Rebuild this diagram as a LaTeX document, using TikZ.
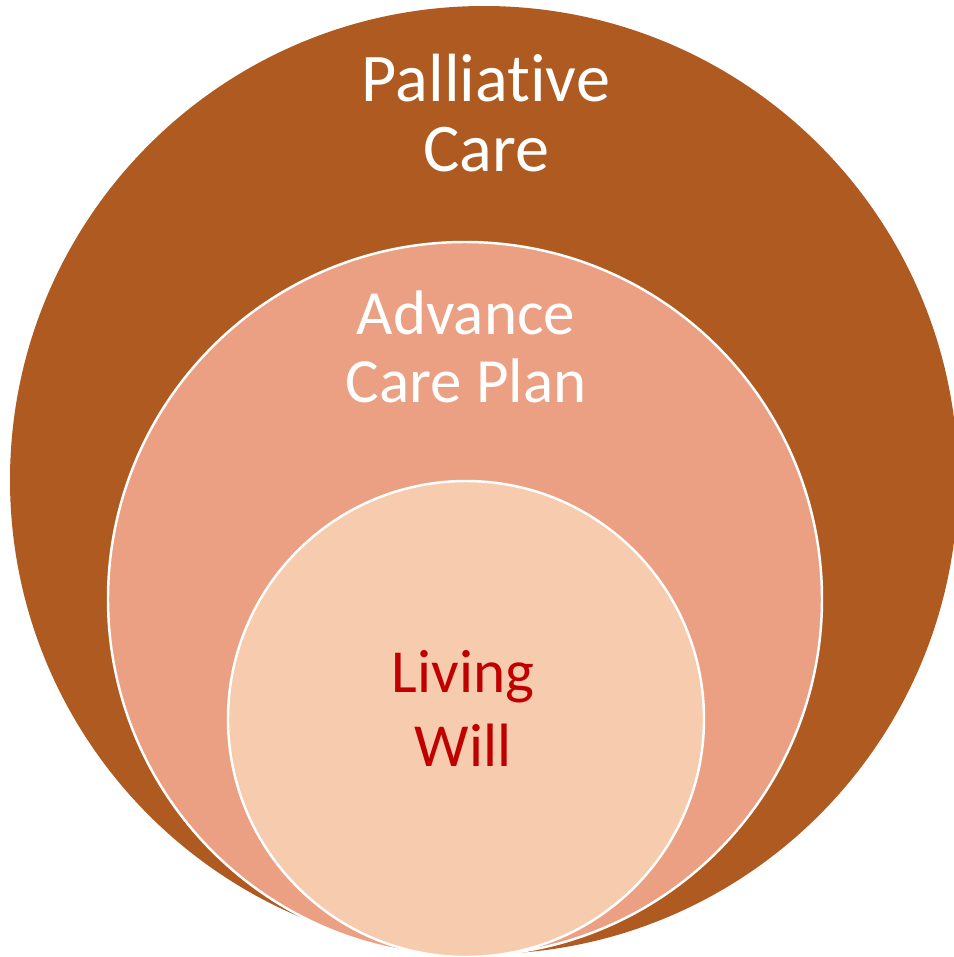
\documentclass[tikz,border=0pt]{standalone}
\usepackage{fontspec}
\setmainfont{Carlito}[Ligatures={NoCommon,NoContextual}]
\usepackage{tikz}
\definecolor{careBrown}{HTML}{AE5A21}
\definecolor{planSalmon}{HTML}{EBA083}
\definecolor{willPeach}{HTML}{F7CBAD}
\definecolor{willRed}{HTML}{C00000}
\tikzset{
  ring/.style={draw=white,line width=0.7pt},
  circletext/.style={align=center,inner sep=0pt,anchor=base}
}
\begin{document}
\begin{tikzpicture}[x=0.01cm,y=-0.01cm]
            \useasboundingbox (0,0) rectangle (953,957);
            % Circles
            \fill[careBrown](484,480)circle(474);
            \filldraw[ring,fill=planSalmon](465,599)circle(357);
            \filldraw[ring,fill=willPeach](466,719)circle(238);
            % Labels (base = last line)
            \node[circletext,text=white,font=\fontsize{19.4}{19.9}\selectfont](palliative) at (486,171){Palliative\\Care};
            \node[circletext,text=white,font=\fontsize{17.9}{19.3}\selectfont](advance) at (466,402){Advance\\Care Plan};
            \node[circletext,text=willRed,font=\fontsize{17.4}{20.8}\selectfont](living) at (463,766){Living\\Will};
        \end{tikzpicture}
\end{document}
